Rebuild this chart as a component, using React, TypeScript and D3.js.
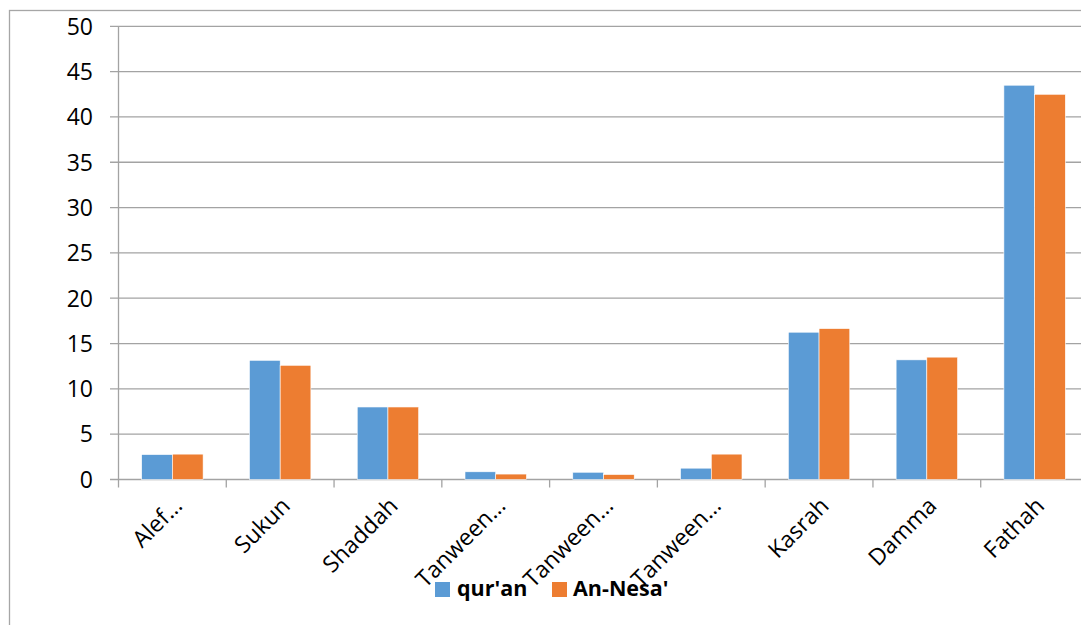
import React from "react";
import * as d3 from "d3";

const categories = ["Alef…", "Sukun", "Shaddah", "Tanween…", "Tanween…", "Tanween…", "Kasrah", "Damma", "Fathah"];
const quranValues = [2.75, 13.15, 8.0, 0.85, 0.8, 1.25, 16.25, 13.2, 43.5];
const nesaValues = [2.8, 12.6, 8.0, 0.6, 0.55, 2.8, 16.65, 13.5, 42.5];
const seriesNames = ["qur'an", "An-Nesa'"];
const seriesColors = ["#5b9bd5", "#ed7d31"];
const yTicks = [0, 5, 10, 15, 20, 25, 30, 35, 40, 45, 50];

const W = 1081;
const H = 625;
const plotLeft = 118.5;
const plotRight = 1088.5;
const plotTop = 26.3;
const plotBottom = 479.5;
const font = "'Open Sans', 'DejaVu Sans', sans-serif";

export default function App() {
  const x = d3.scaleBand<number>().domain(categories.map((_, i) => i)).range([plotLeft, plotRight]).paddingInner(0).paddingOuter(0);
  const bw = x.bandwidth();
  const gap = bw * 0.215;
  const inner = d3.scaleBand<number>().domain([0, 1]).range([gap, bw - gap]).paddingInner(0).paddingOuter(0);
  const y = d3.scaleLinear().domain([0, 50]).range([plotBottom, plotTop]);
  const series = [quranValues, nesaValues];
  const ticksX = d3.range(categories.length + 1).map((i) => plotLeft + i * bw);

  return (
    <svg width={W} height={H} style={{ position: "absolute", left: 0, top: 0, background: "#fff" }}>
      <rect x={9.5} y={10.5} width={W + 20} height={H + 20} fill="#fff" stroke="#a6a6a6" strokeWidth={1.3} />
      {yTicks.map((t) => (
        <g key={t}>
          <line x1={110} x2={W} y1={y(t)} y2={y(t)} stroke="#a3a3a3" strokeWidth={1.3} />
          <text x={93} y={y(t)} dy="0.36em" textAnchor="end" fontFamily={font} fontSize={23} fill="#000">
            {t}
          </text>
        </g>
      ))}
      <line x1={plotLeft} x2={plotLeft} y1={plotTop} y2={plotBottom} stroke="#a3a3a3" strokeWidth={1.3} />
      {ticksX.map((tx, i) => (
        <line key={i} x1={tx} x2={tx} y1={plotBottom} y2={plotBottom + 8} stroke="#a3a3a3" strokeWidth={1.3} />
      ))}
      {series.map((vals, s) =>
        vals.map((v, i) => (
          <rect
            key={s + "-" + i}
            x={(x(i) as number) + (inner(s) as number)}
            y={y(v)}
            width={inner.bandwidth()}
            height={plotBottom - y(v)}
            fill={seriesColors[s]}
            stroke="#ffffff"
            strokeWidth={0.6}
          />
        ))
      )}
      {categories.map((c, i) => {
        const cx = (x(i) as number) + bw / 2 - 1;
        return (
          <text
            key={i}
            transform={`translate(${cx},495) rotate(-45)`}
            textAnchor="end"
            dy="0.75em"
            fontFamily={font}
            fontSize={23}
            fill="#000"
          >
            {c}
          </text>
        );
      })}
      <g fontFamily={font} fontSize={21.5} fontWeight="bold">
        <rect x={435} y={582} width={15} height={15} fill={seriesColors[0]} />
        <text x={457} y={596}>{seriesNames[0]}</text>
        <rect x={552} y={582} width={15} height={15} fill={seriesColors[1]} />
        <text x={573} y={596}>{seriesNames[1]}</text>
      </g>
    </svg>
  );
}
